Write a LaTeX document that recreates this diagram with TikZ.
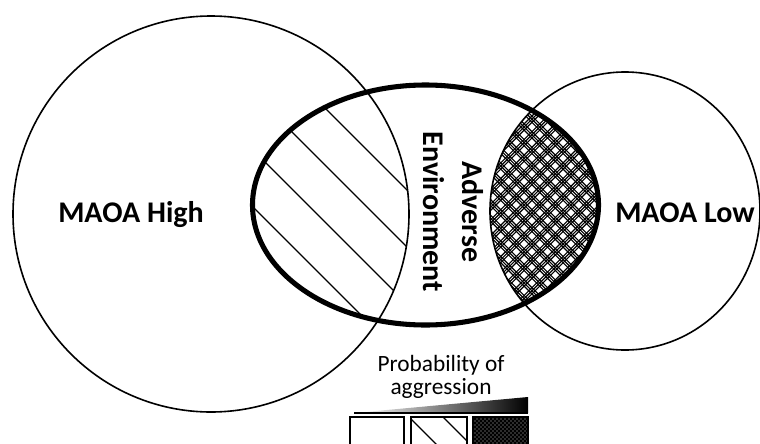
\documentclass[tikz,border=0pt]{standalone}
\usepackage{fontspec}
\setmainfont{Carlito}
\begin{document}
\begin{tikzpicture}[x=0.75pt,y=-0.75pt,
  ring/.style={line width=1.2pt},
  envring/.style={line width=3.8pt},
  hatchline/.style={line width=0.9pt},
  xhatch/.style={line width=0.85pt},
  legendbox/.style={line width=1.5pt},
  biglbl/.style={font=\fontsize{22.5}{29.25}\selectfont\bfseries, inner sep=0pt},
  leglbl/.style={font=\fontsize{17.5}{17.5}\selectfont, inner sep=0pt}]
\useasboundingbox (0,0) rectangle (760,443);

% ---- single hatching: MAOA High x Adverse Environment
\begin{scope}
  \clip (211,214) circle[radius=148.5pt];
  \clip (425.5,205) ellipse[x radius=129.75pt, y radius=90pt];
  \foreach \c in {46,103,160,217}
    \draw[hatchline] ({\c},0) -- ({\c+450},450);
\end{scope}

% ---- cross hatching: MAOA Low x Adverse Environment
\begin{scope}
  \clip (625,211) ellipse[x radius=101.25pt, y radius=104.25pt];
  \clip (425.5,205) ellipse[x radius=129.75pt, y radius=90pt];
  \foreach \k in {0,...,23}{
    \foreach \j in {0,1,2}{
      \pgfmathsetmacro\cc{160+\k*15.6+\j*3.1}
      \pgfmathsetmacro\dd{570+\k*15.6+\j*3.1}
      \draw[xhatch] (\cc,0) -- (\cc+450,450);
      \draw[xhatch] (\dd,0) -- (\dd-450,450);
    }
  }
\end{scope}

% ---- circles and ellipse
\draw[ring] (211,214) circle[radius=148.5pt];
\draw[ring] (625,211) ellipse[x radius=101.25pt, y radius=104.25pt];
\draw[envring] (425.5,205) ellipse[x radius=129.75pt, y radius=90pt];

% ---- labels
\node[biglbl, anchor=base] (hi) at (131,222) {MAOA High};
\node[biglbl, anchor=base] (lo) at (685,222) {MAOA Low};
\node[biglbl, rotate=-90, align=center] (env) at (453,212) {Adverse\\Environment};

% ---- legend
\node[leglbl, align=center] (prob) at (441,377) {Probability of\\aggression};

\coordinate (wl) at (354,413);
\coordinate (wr) at (528,397);
\coordinate (wb) at (528,413);
\shade[left color=white, right color=black] (wl) -- (wr) -- (wb) -- cycle;
\draw[line width=1pt] (wl) -- (wb);

\draw[legendbox] (350,417) rectangle (404,460);
\begin{scope}
  \clip (411,417) rectangle (467,460);
  \draw[hatchline] (403,411) -- (460,468);
  \draw[hatchline] (437,411) -- (494,468);
\end{scope}
\draw[legendbox] (411,417) rectangle (467,460);
\fill[gray!60] (473,417) rectangle (528,460);
\begin{scope}
  \clip (473,417) rectangle (528,460);
  \foreach \k in {0,...,30}{
    \draw[line width=1.1pt] ({420+\k*4},400) -- ({480+\k*4},460);
    \draw[line width=1.1pt] ({470+\k*4},400) -- ({410+\k*4},460);
  }
\end{scope}
\draw[legendbox] (473,417) rectangle (528,460);
\end{tikzpicture}
\end{document}
